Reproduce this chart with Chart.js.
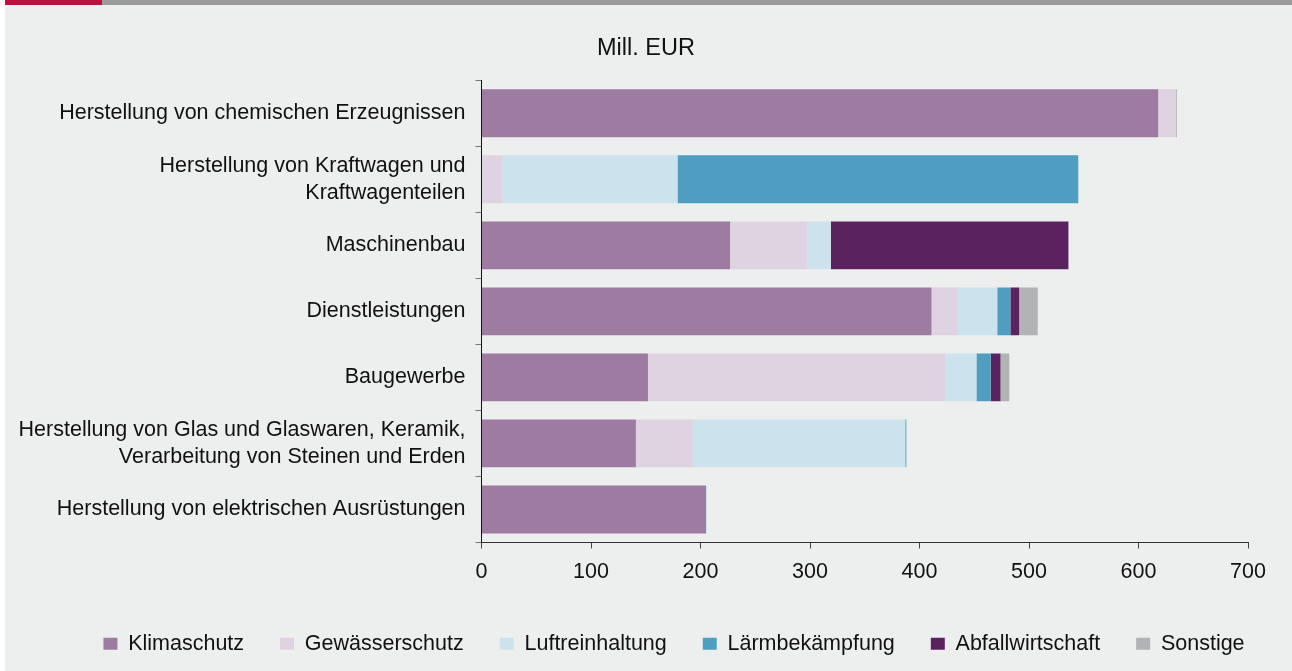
<!DOCTYPE html>
<html lang="de">
<head>
<meta charset="utf-8">
<title>Umweltschutzinvestitionen nach Wirtschaftszweigen</title>
<script src="https://cdn.jsdelivr.net/npm/chart.js@4.4.1/dist/chart.umd.min.js"></script>
<style>
  html, body { margin: 0; padding: 0; background: #ffffff; }
  #panel { position: absolute; left: 5px; top: 5px; width: 1287px; height: 666px; background: #edefee; }
  #streifenRot { position: absolute; left: 5px; top: 0; width: 97px; height: 5px; background: #b8123f; }
  #streifenGrau { position: absolute; left: 102px; top: 0; right: 0; height: 5px; background: #9b9b9c; }
  #wrap { position: absolute; left: 0; top: 0; width: 1292px; height: 671px; }
</style>
</head>
<body>
<div id="panel"></div>
<div id="streifenRot"></div>
<div id="streifenGrau"></div>
<div id="wrap"><canvas id="grafik"></canvas></div>

<script>
// ========================
// DATEN
// ========================

const branchen = [
  "Herstellung von chemischen Erzeugnissen",
  ["Herstellung von Kraftwagen und", "Kraftwagenteilen"],
  "Maschinenbau",
  "Dienstleistungen",
  "Baugewerbe",
  ["Herstellung von Glas und Glaswaren, Keramik,", "Verarbeitung von Steinen und Erden"],
  "Herstellung von elektrischen Ausrüstungen",
];

const klimaschutz = [618, 0, 227, 411, 152, 141, 205];
const gewaesserschutz = [16, 19, 70, 24, 272, 52, 0];
const luftreinhaltung = [0, 160, 22, 36, 28, 194, 1];
const laermbekaempfung = [0, 366, 0, 12, 13, 1, 0];
const abfallwirtschaft = [0, 0, 217, 8, 9, 0, 0];
const sonstige = [1, 0, 0, 17, 8, 0, 0];

const xTicks = [0, 100, 200, 300, 400, 500, 600, 700];

// ========================
// FARBEN / SCHRIFT
// ========================

const schrift = '"Liberation Sans", Arial, Helvetica, sans-serif';

const serien = [
  { label: "Klimaschutz", data: klimaschutz, farbe: "#9e7ba0" },
  { label: "Gewässerschutz", data: gewaesserschutz, farbe: "#dfd3e1" },
  { label: "Luftreinhaltung", data: luftreinhaltung, farbe: "#cce2ed" },
  { label: "Lärmbekämpfung", data: laermbekaempfung, farbe: "#4e9ec1" },
  { label: "Abfallwirtschaft", data: abfallwirtschaft, farbe: "#5b2260" },
  { label: "Sonstige", data: sonstige, farbe: "#b2b3b4" },
];

// legende flacher als chart.js sie rechnet und etwas nach rechts
const legendeAnpassen = {
  id: "legendeAnpassen",
  beforeInit(chart) {
    const fitOriginal = chart.legend.fit;
    chart.legend.fit = function () {
      fitOriginal.bind(chart.legend)();
      this.height = 74;
    };
  },
  afterLayout(chart) {
    chart.legend.left += 28;
    chart.legend.right += 28;
  },
};

// ========================
// GRAFIK
// ========================

new Chart(document.getElementById("grafik"), {
  type: "bar",

  data: {
    labels: branchen,

    datasets: serien.map((s) => ({
      label: s.label,
      data: s.data,
      backgroundColor: s.farbe,
      borderWidth: 0,
      categoryPercentage: 1,
      barPercentage: 0.724,
    })),
  },

  options: {
    indexAxis: "y",
    responsive: true,
    maintainAspectRatio: false,
    animation: false,
    devicePixelRatio: 1,

    layout: {
      padding: 0,
    },

    plugins: {
      title: {
        display: true,
        text: "Mill. EUR",
        color: "#111111",
        font: { family: schrift, size: 23.5, weight: "normal" },
        padding: { top: 34, bottom: 18 },
      },

      legend: {
        position: "bottom",
        labels: {
          color: "#111111",
          font: { family: schrift, size: 21.5 },
          boxWidth: 14,
          boxHeight: 12,
          padding: 36,
        },
      },

      tooltip: { enabled: false },
    },

    scales: {
      x: {
        stacked: true,
        min: 0,
        max: 700,
        afterBuildTicks: (scale) => {
          scale.ticks = xTicks.map((v) => ({ value: v }));
        },
        afterFit: (scale) => {
          scale.height = 54.5;
        },
        grid: {
          drawOnChartArea: false,
          drawTicks: true,
          tickLength: 6,
          color: "#444444",
        },
        border: { display: true, color: "#333333", width: 1 },
        ticks: {
          color: "#111111",
          font: { family: schrift, size: 21.5 },
          padding: 11,
        },
      },

      y: {
        stacked: true,
        afterFit: (scale) => {
          scale.width = 481.5;
        },
        grid: {
          offset: true,
          drawOnChartArea: false,
          drawTicks: true,
          tickLength: 6,
          color: "#777777",
        },
        border: { display: true, color: "#111111", width: 1 },
        ticks: {
          color: "#111111",
          font: { family: schrift, size: 21.5, lineHeight: 1.25 },
          padding: 10,
        },
      },

      // leerer rand rechts, damit der titel ueber die ganze breite zentriert bleibt
      rand: {
        type: "category",
        axis: "y",
        position: "right",
        display: true,
        afterFit: (scale) => {
          scale.width = 44;
        },
        grid: { display: false, drawTicks: false },
        border: { display: false },
        ticks: { display: false },
      },
    },
  },

  plugins: [legendeAnpassen],
});
</script>
</body>
</html>
